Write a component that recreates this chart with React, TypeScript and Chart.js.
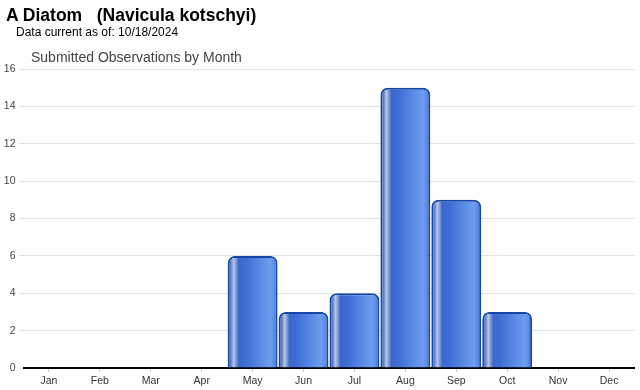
import React, { useEffect, useRef } from "react";
import { Chart, registerables } from "chart.js";

Chart.register(...registerables);

const months = ["Jan", "Feb", "Mar", "Apr", "May", "Jun", "Jul", "Aug", "Sep", "Oct", "Nov", "Dec"];
const observations = [0, 0, 0, 0, 6, 3, 4, 15, 9, 3, 0, 0];
const yMin = 0;
const yMax = 16;
const yStep = 2;

export default function App() {
  const ref = useRef<HTMLCanvasElement | null>(null);

  useEffect(() => {
    if (!ref.current) return;
    const chart = new Chart(ref.current, {
      type: "bar",
      data: {
        labels: months,
        datasets: [
          {
            data: observations,
            backgroundColor: (c: any) => {
              const ch = c.chart;
              const xs = ch.scales?.x;
              if (!xs || c.dataIndex === undefined) return "#3a6ad0";
              const cx = xs.getPixelForValue(c.dataIndex);
              const w = (xs.width / months.length) * 0.98;
              const x0 = cx - w / 2;
              const x1 = cx + w / 2;
              if (!isFinite(x0) || !isFinite(x1)) return "#3a6ad0";
              const g = ch.ctx.createLinearGradient(x0, 0, x1, 0);
              g.addColorStop(0, "#1a47a8");
              g.addColorStop(0.06, "#5a7ec8");
              g.addColorStop(0.12, "#b7c6e6");
              g.addColorStop(0.17, "#7e9ad6");
              g.addColorStop(0.22, "#3a67cc");
              g.addColorStop(0.35, "#3d6dd4");
              g.addColorStop(0.85, "#6d9cf0");
              g.addColorStop(0.93, "#5f8de6");
              g.addColorStop(1, "#1f4fb5");
              return g;
            },
            borderColor: "#1446a6",
            borderWidth: 2,
            borderRadius: { topLeft: 7, topRight: 7, bottomLeft: 0, bottomRight: 0 },
            borderSkipped: "bottom",
            barPercentage: 0.98,
            categoryPercentage: 1,
          },
        ],
      },
      options: {
        animation: false,
        responsive: false,
        maintainAspectRatio: false,
        layout: { padding: { top: 69, right: 5.5, bottom: 0, left: 0 } },
        plugins: {
          legend: { display: false },
          title: { display: false },
          tooltip: { enabled: false },
        },
        scales: {
          x: {
            afterFit: (s: any) => {
              s.height = 22;
            },
            grid: {
              display: true,
              drawOnChartArea: false,
              drawTicks: true,
              tickLength: 4,
              color: "#cccccc",
              offset: false,
            },
            border: { display: true, color: "#000000", width: 2 },
            ticks: {
              color: "#333333",
              font: { family: "Arial, 'Liberation Sans', sans-serif", size: 10.5 },
              padding: 3,
              maxRotation: 0,
            },
          },
          y: {
            min: yMin,
            max: yMax,
            afterFit: (s: any) => {
              s.width = 23.5;
            },
            grid: {
              color: "#e2e2e2",
              lineWidth: 1,
              tickLength: 4,
              drawTicks: true,
            },
            border: { display: false },
            ticks: {
              stepSize: yStep,
              color: "#444444",
              padding: 4,
              font: { family: "Arial, 'Liberation Sans', sans-serif", size: 10.5 },
            },
          },
        },
      },
    });
    return () => chart.destroy();
  }, []);

  return (
    <div
      style={{
        position: "fixed",
        left: 0,
        top: 0,
        width: 640,
        height: 390,
        background: "#ffffff",
        fontFamily: "Arial, 'Liberation Sans', sans-serif",
      }}
    >
      <canvas ref={ref} width={640} height={390} style={{ position: "absolute", left: 0, top: 0 }} />
      <div
        style={{
          position: "absolute",
          left: 6,
          top: 5,
          fontSize: 17.5,
          fontWeight: "bold",
          color: "#000",
          whiteSpace: "pre",
          lineHeight: "20px",
        }}
      >
        {"A Diatom   (Navicula kotschyi)"}
      </div>
      <div
        style={{
          position: "absolute",
          left: 16,
          top: 25,
          fontSize: 12,
          color: "#000",
          whiteSpace: "pre",
          lineHeight: "14px",
        }}
      >
        {"Data current as of: 10/18/2024"}
      </div>
      <div
        style={{
          position: "absolute",
          left: 31,
          top: 49,
          fontSize: 14,
          color: "#444",
          whiteSpace: "pre",
          lineHeight: "17px",
        }}
      >
        {"Submitted Observations by Month"}
      </div>
    </div>
  );
}
